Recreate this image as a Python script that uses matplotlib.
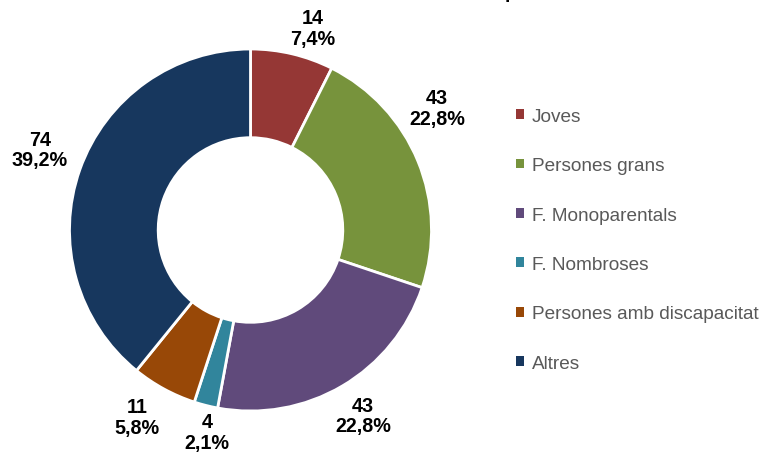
import matplotlib
matplotlib.use("Agg")
import matplotlib.pyplot as plt
from matplotlib.patches import Patch

categories = ["Joves", "Persones grans", "F. Monoparentals", "F. Nombroses",
              "Persones amb discapacitat", "Altres"]
values = [14, 43, 43, 4, 11, 74]
pct_labels = ["7,4%", "22,8%", "22,8%", "2,1%", "5,8%", "39,2%"]
colors = ["#953735", "#77933C", "#604A7B", "#31859C", "#984807", "#17375E"]

# label positions (data coords of the unit-radius pie)
label_pos = [(0.345, 1.115), (1.03, 0.675), (0.622, -1.025),
             (-0.240, -1.115), (-0.627, -1.035), (-1.163, 0.445)]

W, H = 768, 456
fig = plt.figure(figsize=(W / 100, H / 100), dpi=100)
cx, cy, r = 250.5, 231, 181
ax = fig.add_axes([(cx - r) / W, (H - cy - r) / H, 2 * r / W, 2 * r / H])
ax.pie(values, colors=colors, startangle=90, counterclock=False, radius=1,
       wedgeprops=dict(width=0.49, edgecolor="white", linewidth=2))
ax.set_xlim(-1, 1)
ax.set_ylim(-1, 1)
ax.set_aspect("equal")
ax.axis("off")

font = "Liberation Sans"
for v, p, (x, y) in zip(values, pct_labels, label_pos):
    ax.text(x, y, f"{v}\n{p}", ha="center", va="center", fontsize=14.2,
            fontweight="bold", family=font, linespacing=1.12, clip_on=False,
            color="black")

# clipped title descender at top
fig.text(511 / W, 1 + 1.5 / H, "p", ha="center", va="baseline", fontsize=14,
         fontweight="bold", family=font)

handles = [Patch(facecolor=c, edgecolor="none") for c in colors]
leg = fig.legend(handles, categories, loc="upper left",
                 bbox_to_anchor=(516 / W, 1 - 109 / H), frameon=False,
                 prop=dict(family=font, size=13.7), handlelength=0.42,
                 handleheight=0.42, handletextpad=0.4, labelspacing=1.7,
                 borderaxespad=0, borderpad=0)
for t in leg.get_texts():
    t.set_color("#595959")

fig.savefig("out.png", dpi=100)
